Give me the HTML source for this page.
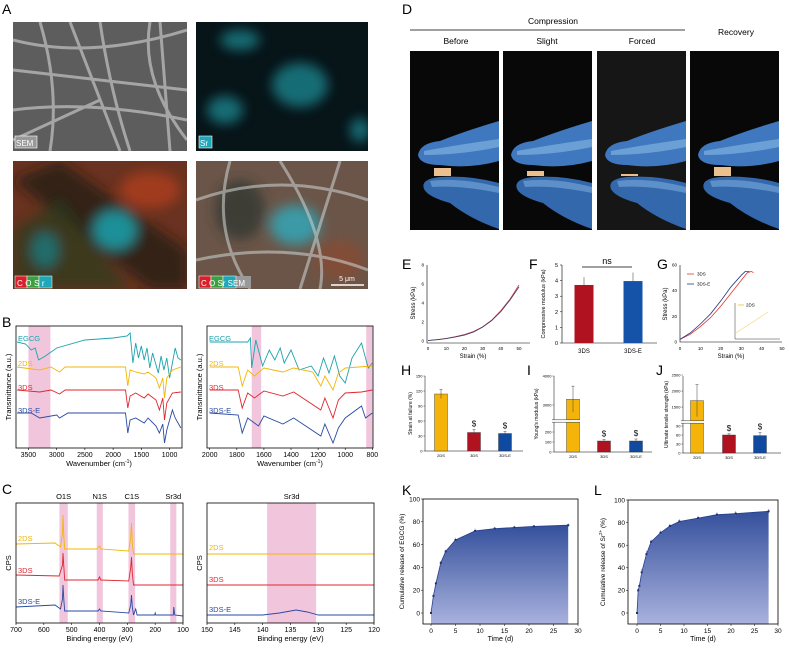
<!DOCTYPE html>
<html><head><meta charset="utf-8"><style>
html,body{margin:0;padding:0;background:#fff;}
svg{display:block;font-family:"Liberation Sans",sans-serif;}
</style></head><body>
<svg id="fig" width="789" height="648" viewBox="0 0 789 648" xmlns="http://www.w3.org/2000/svg">
<defs>
<linearGradient id="relGrad" x1="0" y1="0" x2="0" y2="1"><stop offset="0" stop-color="#34509c"/><stop offset="1" stop-color="#aab2de"/></linearGradient>
<filter id="blur3"><feGaussianBlur stdDeviation="6"/></filter>
<clipPath id="clipTL"><rect x="13" y="22" width="174" height="129"/></clipPath>
<clipPath id="clipTR"><rect x="196" y="22" width="172" height="129"/></clipPath>
<clipPath id="clipBL"><rect x="13" y="161" width="174" height="128"/></clipPath>
<clipPath id="clipBR"><rect x="196" y="161" width="172" height="128"/></clipPath>
</defs>

<!-- Panel A -->
<g>
<text x="2" y="14" font-size="14">A</text>
<g clip-path="url(#clipTL)">
<rect x="13" y="22" width="174" height="129" fill="#5d5d5d"/>
<g stroke="#b8b8b8" stroke-width="3" fill="none" opacity="0.8">
<path d="M13 40 Q90 60 187 30"/><path d="M40 22 Q60 90 50 151"/><path d="M100 22 Q110 90 130 151"/><path d="M13 110 Q90 100 187 120"/><path d="M150 22 Q140 80 187 140"/><path d="M13 70 L187 90"/><path d="M70 22 L120 151"/><path d="M13 140 L100 100"/><path d="M160 22 L170 151"/>
</g>
<rect x="15" y="136" width="22" height="12" fill="#999" stroke="#fff" stroke-width="0.6"/>
<text x="16" y="146" font-size="8" fill="#fff">SEM</text>
</g>
<g clip-path="url(#clipTR)">
<rect x="196" y="22" width="172" height="129" fill="#071418"/>
<g filter="url(#blur3)" fill="#1c8a94" opacity="0.75">
<ellipse cx="300" cy="85" rx="28" ry="22"/><ellipse cx="225" cy="110" rx="18" ry="14"/><ellipse cx="240" cy="40" rx="20" ry="10"/><ellipse cx="360" cy="130" rx="10" ry="12"/>
</g>
<rect x="199" y="136" width="13" height="12" fill="#1ea7b8" stroke="#fff" stroke-width="0.6"/>
<text x="200" y="146" font-size="8" fill="#fff">Sr</text>
</g>
<g clip-path="url(#clipBL)">
<rect x="13" y="161" width="174" height="128" fill="#6a3220"/>
<g filter="url(#blur3)">
<path d="M13 180 L60 161 L187 250 L187 289 L150 289 Z" fill="#1a1a12" opacity="0.7"/>
<path d="M13 230 L60 200 L130 289 L13 289 Z" fill="#2a3a20" opacity="0.7"/>
<ellipse cx="115" cy="230" rx="22" ry="20" fill="#1e8f98"/>
<ellipse cx="45" cy="250" rx="14" ry="18" fill="#1e7a80" opacity="0.8"/>
<ellipse cx="150" cy="190" rx="30" ry="18" fill="#b84020" opacity="0.7"/>
</g>
<rect x="15" y="276" width="12" height="12" fill="#d8202a" stroke="#fff" stroke-width="0.5"/>
<rect x="27" y="276" width="12" height="12" fill="#3aa040" stroke="#fff" stroke-width="0.5"/>
<rect x="39" y="276" width="13" height="12" fill="#1ea7b8" stroke="#fff" stroke-width="0.5"/>
<text x="17" y="286" font-size="8" fill="#fff" letter-spacing="2.5">COSr</text>
</g>
<g clip-path="url(#clipBR)">
<rect x="196" y="161" width="172" height="128" fill="#6b5548"/>
<g filter="url(#blur3)"><ellipse cx="295" cy="225" rx="25" ry="20" fill="#3a9aa6"/><ellipse cx="240" cy="210" rx="25" ry="30" fill="#2a3530" opacity="0.7"/><ellipse cx="340" cy="260" rx="25" ry="20" fill="#8a4a30" opacity="0.7"/></g>
<g stroke="#c8cccc" stroke-width="3" fill="none" opacity="0.6">
<path d="M196 200 Q280 170 368 200"/><path d="M230 161 Q210 230 250 289"/><path d="M280 161 Q330 240 320 289"/><path d="M196 260 Q290 240 368 270"/><path d="M340 161 L300 289"/>
</g>
<rect x="199" y="276" width="52" height="12" fill="#999"/>
<rect x="199" y="276" width="12" height="12" fill="#d8202a" stroke="#fff" stroke-width="0.5"/>
<rect x="211" y="276" width="12" height="12" fill="#3aa040" stroke="#fff" stroke-width="0.5"/>
<rect x="223" y="276" width="13" height="12" fill="#1ea7b8" stroke="#fff" stroke-width="0.5"/>
<text x="201" y="286" font-size="8" fill="#fff">C  O  Sr SEM</text>
<line x1="331" y1="285" x2="364" y2="285" stroke="#fff" stroke-width="1.5"/>
<text x="347" y="281" font-size="7" fill="#fff" text-anchor="middle">5 μm</text>
</g>
</g>

<!-- Panel D -->
<g>
<text x="402" y="14" font-size="14">D</text>
<text x="553" y="24" font-size="8.5" text-anchor="middle">Compression</text>
<line x1="410" y1="30" x2="685" y2="30" stroke="#000" stroke-width="0.8"/>
<text x="456" y="44" font-size="8.5" text-anchor="middle">Before</text>
<text x="547" y="44" font-size="8.5" text-anchor="middle">Slight</text>
<text x="642" y="44" font-size="8.5" text-anchor="middle">Forced</text>
<text x="736" y="35" font-size="8.5" text-anchor="middle">Recovery</text>
<g id="photos"></g>
</g>

<g id="charts"></g>
</svg>
<script>
var NS='http://www.w3.org/2000/svg';
var root=document.getElementById('charts');
function mk(tag,attrs,name,parent,text){
  var el=document.createElementNS(NS,tag);
  for(var k in attrs) el.setAttribute(k,attrs[k]);
  
  
  if(text!==undefined) el.textContent=text;
  (parent||root).appendChild(el);
  return el;
}
function lin(d0,d1,r0,r1){return function(v){return r0+(v-d0)*(r1-r0)/(d1-d0);};}

// ---------- Photos (D) ----------
var photoX=[410,503,597,690];
var sampleH=[8,5,2,9];
var ph=document.getElementById('photos');
photoX.forEach(function(x,i){
  var g=mk('g',{transform:'translate('+x+',51)'},'photo-'+(i+1),ph);
  mk('rect',{x:0,y:0,width:89,height:179,fill:i==2?'#161616':'#080808'},'photo-background',g);
  mk('path',{d:'M8 104 Q10 92 30 90 Q55 80 89 70 L89 110 Q60 118 30 114 Q10 114 8 104 Z',fill:'#3f78bf'},'glove-upper',g);
  mk('path',{d:'M14 100 Q40 95 89 88 L89 96 Q50 104 14 104 Z',fill:'#7fb0e0',opacity:0.7},'glove-upper-highlight',g);
  mk('path',{d:'M14 138 Q10 128 30 126 Q60 124 89 132 L89 178 Q60 168 40 152 Q18 146 14 138 Z',fill:'#3468ac'},'glove-lower',g);
  mk('path',{d:'M20 130 Q50 126 89 136 L89 142 Q50 134 22 136 Z',fill:'#7aaadc',opacity:0.6},'glove-lower-highlight',g);
  mk('rect',{x:24,y:125-sampleH[i],width:17,height:sampleH[i],fill:'#e9c08e'},'sample-scaffold',g);
});

// ---------- Panel B: FTIR ----------
var ftirNames=['EGCG','2DS','3DS','3DS-E'];
var ftirColors=['#1ba3ad','#f2b705','#e0262f','#2a4aa2'];
var ftirLeftEGCG=[[3700,106],[3550,104],[3450,98],[3380,100],[3320,88],[3200,92],[3000,100],[2500,108],[2000,110],[1750,112],[1700,115],[1650,85],[1600,105],[1550,90],[1500,102],[1450,88],[1400,100],[1350,80],[1300,95],[1200,75],[1150,92],[1100,78],[1050,90],[1000,70],[950,85],[900,100],[850,90],[800,88]];
var ftirLeft2DS=[[3700,81],[3300,78],[3100,81],[2950,76],[2850,81],[1780,81],[1740,62],[1700,78],[1600,76],[1450,74],[1380,76],[1240,70],[1180,60],[1120,70],[1090,50],[1050,70],[950,78],[800,81]];
var ftirLeft3DS=[[3700,58],[3300,56],[3100,58],[2950,54],[2850,58],[1780,58],[1740,40],[1700,52],[1600,55],[1450,50],[1380,54],[1240,48],[1180,38],[1120,50],[1090,28],[1050,45],[950,55],[800,56]];
var ftirLeft3DSE=[[3700,35],[3450,35],[3300,30],[3000,33],[2950,30],[2800,35],[1780,35],[1740,15],[1700,28],[1600,30],[1450,25],[1380,30],[1240,22],[1180,15],[1120,24],[1090,5],[1050,18],[950,38],[900,30],[800,20]];
var ftirRightEGCG=[[2000,106],[1720,106],[1700,110],[1690,80],[1660,108],[1610,82],[1560,98],[1520,88],[1480,100],[1450,85],[1400,98],[1340,78],[1250,82],[1200,72],[1160,90],[1120,75],[1080,92],[1040,72],[1000,65],[950,90],[880,105],[850,90],[830,80],[800,85]];
var ftirRight2DS=[[2000,81],[1790,81],[1760,62],[1720,78],[1670,72],[1600,80],[1460,76],[1380,80],[1240,76],[1180,62],[1150,72],[1090,58],[1050,75],[1000,80],[800,82]];
var ftirRight3DS=[[2000,58],[1790,58],[1760,40],[1720,55],[1670,50],[1600,57],[1460,52],[1380,56],[1180,38],[1150,50],[1090,30],[1050,48],[1000,55],[880,56],[800,58]];
var ftirRight3DSE=[[2000,35],[1790,33],[1760,15],[1720,30],[1640,22],[1600,32],[1460,24],[1380,30],[1180,12],[1150,24],[1090,5],[1050,20],[1000,30],[880,42],[850,30],[800,35]];
var ftirLeftTicks=[3500,3000,2500,2000,1500,1000];
var ftirRightTicks=[2000,1800,1600,1400,1200,1000,800];
var ftirLeftBands=[[3500,3110]];
var ftirRightBands=[[1690,1620],[845,800]];

// ---------- Panel C: XPS ----------
var xpsNames=['2DS','3DS','3DS-E'];
var xpsColors=['#f2b705','#e0262f','#2a4aa2'];
var xpsLeft2DS=[[700,79],[560,80],[540,76],[533,90],[531,108],[528,85],[525,74],[410,74],[400,77],[395,74],[295,72],[288,85],[285,100],[282,80],[278,69],[100,69]];
var xpsLeft3DS=[[700,48],[545,47],[533,58],[531,70],[528,55],[525,43],[405,43],[400,46],[395,43],[295,42],[288,55],[285,66],[282,50],[278,38],[100,38]];
var xpsLeft3DSE=[[700,16],[560,18],[540,14],[533,24],[531,38],[528,22],[525,12],[405,12],[400,14],[395,12],[295,10],[288,18],[285,28],[282,16],[278,8],[270,14],[265,8],[202,8],[200,10],[198,8],[135,8],[133,16],[130,8],[100,7]];
var xpsRight2DS=[[150,69],[120,69]];
var xpsRight3DS=[[150,38],[120,38]];
var xpsRight3DSE=[[150,8],[140,8],[137,10],[134,13],[132,11],[130,8],[120,8]];
var xpsLeftTicks=[700,600,500,400,300,200,100];
var xpsRightTicks=[150,145,140,135,130,125,120];
var xpsLeftBands=[[544,514],[410,388],[296,272],[146,124]];
var xpsBandLabels=['O1S','N1S','C1S','Sr3d'];
var xpsRightBands=[[139.2,130.4]];

function frame(x0,y0,x1,y1,name){mk('rect',{x:x0,y:y0,width:x1-x0,height:y1-y0,fill:'none',stroke:'#000','stroke-width':0.8},name);}
function spectrum(opt){
  var sx=lin(opt.d0,opt.d1,opt.x0,opt.x1);
  var sy=function(v){return opt.y1-v;};
  opt.bands.forEach(function(b){
    mk('rect',{x:sx(b[0]),y:opt.y0,width:sx(b[1])-sx(b[0]),height:opt.y1-opt.y0,fill:'#f1c6dd'},opt.name+'-band');
  });
  opt.series.forEach(function(s,i){
    var d=s.map(function(p,j){return (j?'L':'M')+sx(p[0]).toFixed(1)+' '+sy(p[1]).toFixed(1);}).join(' ');
    mk('path',{d:d,fill:'none',stroke:opt.colors[i],'stroke-width':0.9},opt.name+'-line-'+opt.names[i].toLowerCase());
    mk('text',{x:opt.x0+2,y:opt.labelY[i],'font-size':7.5,fill:opt.colors[i]},opt.name+'-label-'+opt.names[i].toLowerCase(),root,opt.names[i]);
  });
  frame(opt.x0,opt.y0,opt.x1,opt.y1,opt.name+'-frame');
  opt.ticks.forEach(function(t){
    var x=sx(t);
    mk('line',{x1:x,y1:opt.y1,x2:x,y2:opt.y1+2,stroke:'#000','stroke-width':0.6},opt.name+'-tick');
    mk('text',{x:x,y:opt.y1+9,'font-size':7,'text-anchor':'middle'},opt.name+'-tick-label',root,String(t));
  });
  var xt=mk('text',{x:(opt.x0+opt.x1)/2,y:opt.y1+18,'font-size':7.5,'text-anchor':'middle'},opt.name+'-x-title',root,'');
  xt.innerHTML=opt.xtitle;
  mk('text',{x:0,y:0,'font-size':7.5,'text-anchor':'middle',transform:'translate('+(opt.x0-5)+','+((opt.y0+opt.y1)/2)+') rotate(-90)'},opt.name+'-y-title',root,opt.ytitle);
  return sx;
}
mk('text',{x:2,y:327,'font-size':14},'panel-label-b',root,'B');
mk('text',{x:2,y:494,'font-size':14},'panel-label-c',root,'C');
spectrum({name:'ftir-left',d0:3720,d1:780,x0:16,x1:182,y0:326,y1:448,bands:ftirLeftBands,series:[ftirLeftEGCG,ftirLeft2DS,ftirLeft3DS,ftirLeft3DSE],colors:ftirColors,names:ftirNames,labelY:[341,366,390,413],ticks:ftirLeftTicks,xtitle:'Wavenumber (cm<tspan font-size="5" dy="-3">-1</tspan><tspan dy="3">)</tspan>',ytitle:'Transmittance (a.u.)'});
spectrum({name:'ftir-right',d0:2020,d1:795,x0:207,x1:373,y0:326,y1:448,bands:ftirRightBands,series:[ftirRightEGCG,ftirRight2DS,ftirRight3DS,ftirRight3DSE],colors:ftirColors,names:ftirNames,labelY:[341,366,390,413],ticks:ftirRightTicks,xtitle:'Wavenumber (cm<tspan font-size="5" dy="-3">-1</tspan><tspan dy="3">)</tspan>',ytitle:'Transmittance (a.u.)'});
var sxl=spectrum({name:'xps-left',d0:700,d1:100,x0:16,x1:183,y0:503,y1:623,bands:xpsLeftBands,series:[xpsLeft2DS,xpsLeft3DS,xpsLeft3DSE],colors:xpsColors,names:xpsNames,labelY:[541,573,604],ticks:xpsLeftTicks,xtitle:'Binding energy (eV)',ytitle:'CPS'});
xpsLeftBands.forEach(function(b,i){mk('text',{x:sxl((b[0]+b[1])/2),y:499,'font-size':7.5,'text-anchor':'middle'},'xps-peak-label',root,xpsBandLabels[i]);});
var sxr=spectrum({name:'xps-right',d0:150,d1:120,x0:207,x1:374,y0:503,y1:623,bands:xpsRightBands,series:[xpsRight2DS,xpsRight3DS,xpsRight3DSE],colors:xpsColors,names:xpsNames,labelY:[550,582,612],ticks:xpsRightTicks,xtitle:'Binding energy (eV)',ytitle:'CPS'});
mk('text',{x:sxr(134.8),y:499,'font-size':7.5,'text-anchor':'middle'},'xps-peak-label',root,'Sr3d');

// ---------- Panel E ----------
var eStrain=[0,5,10,15,20,25,30,35,40,45,50];
var eStress3DS=[0.05,0.15,0.27,0.45,0.68,1.0,1.5,2.2,3.2,4.4,5.9];
var eStress3DSE=[0.05,0.14,0.25,0.42,0.62,0.95,1.45,2.15,3.1,4.3,5.7];
var eXTicks=[0,10,20,30,40,50];
var eYTicks=[0,2,4,6,8];
(function(){
  var sx=lin(0,50,428,519), sy=lin(0,8,341,265);
  mk('text',{x:402,y:269,'font-size':14},'panel-label-e',root,'E');
  mk('path',{d:'M427 265 L427 343 L530 343',fill:'none',stroke:'#000','stroke-width':0.6},'e-axes');
  eXTicks.forEach(function(t){mk('text',{x:sx(t),y:350,'font-size':4.5,'text-anchor':'middle'},'e-x-tick',root,String(t));});
  eYTicks.forEach(function(t){mk('text',{x:424,y:sy(t)+1.5,'font-size':4.5,'text-anchor':'end'},'e-y-tick',root,String(t));});
  [[eStress3DS,'#e0404a'],[eStress3DSE,'#333a66']].forEach(function(s,k){
    var d=eStrain.map(function(v,i){return (i?'L':'M')+sx(v).toFixed(1)+' '+sy(s[0][i]).toFixed(1);}).join(' ');
    mk('path',{d:d,fill:'none',stroke:s[1],'stroke-width':0.8},k?'e-line-3ds-e':'e-line-3ds');
  });
  mk('text',{x:473,y:358,'font-size':6,'text-anchor':'middle'},'e-x-title',root,'Strain (%)');
  mk('text',{x:0,y:0,'font-size':6,'text-anchor':'middle',transform:'translate(415,303) rotate(-90)'},'e-y-title',root,'Stress (kPa)');
})();

// ---------- Panel F ----------
var fGroups=['3DS','3DS-E'];
var fValues=[3.72,3.97];
var fErrors=[0.5,0.55];
var fColors=['#b0121f','#1553a8'];
var fYTicks=[0,1,2,3,4,5];
(function(){
  var sy=lin(0,5,343,265);
  var cx=[584,633];
  mk('text',{x:529,y:269,'font-size':14},'panel-label-f',root,'F');
  mk('path',{d:'M562 265 L562 343 L657 343',fill:'none',stroke:'#000','stroke-width':0.6},'f-axes');
  fYTicks.forEach(function(t){mk('line',{x1:560,y1:sy(t),x2:562,y2:sy(t),stroke:'#000','stroke-width':0.5},'f-y-tickmark');mk('text',{x:558,y:sy(t)+2,'font-size':5.5,'text-anchor':'end'},'f-y-tick',root,String(t));});
  fValues.forEach(function(v,i){
    mk('line',{x1:cx[i],y1:sy(v+fErrors[i]),x2:cx[i],y2:sy(v-fErrors[i]),stroke:'#888','stroke-width':0.6},'f-error-bar');
    mk('rect',{x:cx[i]-9.5,y:sy(v),width:19,height:343-sy(v),fill:fColors[i]},'f-bar-'+fGroups[i].toLowerCase());
    mk('line',{x1:cx[i],y1:sy(v+fErrors[i]),x2:cx[i],y2:sy(v),stroke:'#888','stroke-width':0.6},'f-error-bar-top');
    mk('text',{x:cx[i],y:353,'font-size':6,'text-anchor':'middle'},'f-x-label',root,fGroups[i]);
  });
  mk('line',{x1:582,y1:267,x2:632,y2:267,stroke:'#000','stroke-width':0.7},'f-ns-bracket');
  mk('text',{x:607,y:264,'font-size':9,'text-anchor':'middle'},'f-ns-label',root,'ns');
  mk('text',{x:0,y:0,'font-size':5.5,'text-anchor':'middle',transform:'translate(545,304) rotate(-90)'},'f-y-title',root,'Compressive modulus (kPa)');
})();

// ---------- Panel G ----------
var gStrain3DS=[0,5,10,15,20,25,30,33,35,36];
var gStress3DS=[2,6,12,19,28,38,48,54,55,54];
var gStrain3DSE=[0,5,10,15,20,25,30,32,34];
var gStress3DSE=[2,7,14,22,32,43,52,55,55];
var gInsetStrain=[0,40,80,120];
var gInsetStress=[300,700,1100,1500];
var gXTicks=[0,10,20,30,40,50];
var gYTicks=[0,20,40,60];
(function(){
  var sx=lin(0,50,680,782), sy=lin(0,60,342,265);
  mk('text',{x:657,y:269,'font-size':14},'panel-label-g',root,'G');
  mk('path',{d:'M680 265 L680 342 L782 342',fill:'none',stroke:'#000','stroke-width':0.6},'g-axes');
  gXTicks.forEach(function(t){mk('text',{x:sx(t),y:350,'font-size':4.5,'text-anchor':'middle'},'g-x-tick',root,String(t));});
  gYTicks.forEach(function(t){mk('text',{x:677,y:sy(t)+1.5,'font-size':4.5,'text-anchor':'end'},'g-y-tick',root,String(t));});
  function ln(xs,ys,c,n){var d=xs.map(function(v,i){return (i?'L':'M')+sx(v).toFixed(1)+' '+sy(ys[i]).toFixed(1);}).join(' ');mk('path',{d:d,fill:'none',stroke:c,'stroke-width':0.8},n);}
  ln(gStrain3DS,gStress3DS,'#e8342e','g-line-3ds');
  ln(gStrain3DSE,gStress3DSE,'#233a8c','g-line-3ds-e');
  mk('line',{x1:687,y1:274,x2:694,y2:274,stroke:'#e8342e','stroke-width':0.8},'g-legend-swatch-3ds');
  mk('text',{x:697,y:275.5,'font-size':4.5},'g-legend-3ds',root,'3DS');
  mk('line',{x1:687,y1:284,x2:694,y2:284,stroke:'#233a8c','stroke-width':0.8},'g-legend-swatch-3ds-e');
  mk('text',{x:697,y:285.5,'font-size':4.5},'g-legend-3ds-e',root,'3DS-E');
  var ix=lin(0,160,735,779), iy=lin(0,2000,339,303);
  mk('path',{d:'M735 303 L735 339 L780 339',fill:'none',stroke:'#000','stroke-width':0.4},'g-inset-axes');
  var d=gInsetStrain.map(function(v,i){return (i?'L':'M')+ix(v).toFixed(1)+' '+iy(gInsetStress[i]).toFixed(1);}).join(' ');
  mk('path',{d:d,fill:'none',stroke:'#f6d27a','stroke-width':0.6},'g-inset-line-2ds');
  mk('line',{x1:738,y1:305,x2:744,y2:305,stroke:'#f2b705','stroke-width':0.7},'g-legend-swatch-2ds');
  mk('text',{x:746,y:306.5,'font-size':4.5},'g-legend-2ds',root,'2DS');
  mk('text',{x:731,y:358,'font-size':6,'text-anchor':'middle'},'g-x-title',root,'Strain (%)');
  mk('text',{x:0,y:0,'font-size':6,'text-anchor':'middle',transform:'translate(667,304) rotate(-90)'},'g-y-title',root,'Stress (kPa)');
})();

// ---------- Panels H, I, J ----------
var tensileGroups=['2DS','3DS','3DS-E'];
var tensileColors=['#f5b40a','#b0121f','#0f4aa0'];
var hValues=[114,37,35];
var hErrors=[9,6,4];
var hTicks=[0,30,60,90,120,150];
var iValues=[3200,110,110];
var iErrors=[450,15,20];
var iTicksLow=[0,100,200];
var iTicksHigh=[3000,4000];
var jValues=[1700,60,58];
var jErrors=[500,4,10];
var jTicksLow=[0,30,60,90];
var jTicksHigh=[1500,2000,2500];
function tensile(o){
  mk('text',{x:o.lx,y:375,'font-size':14},'panel-label-'+o.id,root,o.id.toUpperCase());
  mk('path',{d:'M'+o.ax+' 376 L'+o.ax+' '+o.base+' L'+(o.ax+98)+' '+o.base,fill:'none',stroke:'#000','stroke-width':0.5},o.id+'-axes');
  o.lowTicks.forEach(function(t){var y=o.ly(t);mk('line',{x1:o.ax-1.5,y1:y,x2:o.ax,y2:y,stroke:'#000','stroke-width':0.4},o.id+'-tickmark');mk('text',{x:o.ax-2.5,y:y+1.3,'font-size':4,'text-anchor':'end'},o.id+'-y-tick',root,String(t));});
  o.highTicks.forEach(function(t){var y=o.hy(t);mk('line',{x1:o.ax-1.5,y1:y,x2:o.ax,y2:y,stroke:'#000','stroke-width':0.4},o.id+'-tickmark');mk('text',{x:o.ax-2.5,y:y+1.3,'font-size':4,'text-anchor':'end'},o.id+'-y-tick',root,String(t));});
  o.values.forEach(function(v,i){
    var cx=o.cx[i], y=v>o.brk?o.hy(v):o.ly(v);
    var yt=(v+o.errors[i])>o.brk?o.hy(v+o.errors[i]):o.ly(v+o.errors[i]);
    var yb=(v-o.errors[i])>o.brk?o.hy(v-o.errors[i]):o.ly(v-o.errors[i]);
    mk('rect',{x:cx-6.5,y:y,width:13,height:o.base-y,fill:o.colors[i],stroke:'#333','stroke-width':0.4},o.id+'-bar-'+tensileGroups[i].toLowerCase());
    mk('line',{x1:cx,y1:yt,x2:cx,y2:yb,stroke:'#444','stroke-width':0.5},o.id+'-error-bar');
    mk('line',{x1:cx-1.5,y1:yt,x2:cx+1.5,y2:yt,stroke:'#444','stroke-width':0.5},o.id+'-error-cap');
    mk('text',{x:cx,y:o.base+6,'font-size':4,'text-anchor':'middle'},o.id+'-x-label',root,tensileGroups[i]);
    if(i>0) mk('text',{x:cx,y:yt-3,'font-size':8,'text-anchor':'middle'},o.id+'-significance',root,'$');
  });
  if(o.breakY){
    mk('rect',{x:o.ax-2,y:o.breakY-1.2,width:o.cx[0]+8-o.ax+2,height:2.4,fill:'#fff'},o.id+'-axis-break');
    mk('line',{x1:o.ax-2,y1:o.breakY-1.2,x2:o.cx[0]+7,y2:o.breakY-1.2,stroke:'#333','stroke-width':0.5},o.id+'-break-line');
    mk('line',{x1:o.ax-2,y1:o.breakY+1.2,x2:o.cx[0]+7,y2:o.breakY+1.2,stroke:'#333','stroke-width':0.5},o.id+'-break-line');
  }
  mk('text',{x:0,y:0,'font-size':5,'text-anchor':'middle',transform:'translate('+o.tx+','+((376+o.base)/2)+') rotate(-90)'},o.id+'-y-title',root,o.title);
}
tensile({id:'h',lx:401,ax:425,base:451,ly:lin(0,150,451,376),hy:lin(0,150,451,376),brk:1e9,lowTicks:hTicks,highTicks:[],values:hValues,errors:hErrors,colors:tensileColors,cx:[441,474,505],tx:412,title:'Strain at failure (%)'});
tensile({id:'i',lx:527,ax:554,base:452,ly:lin(0,250,452,427),hy:lin(3000,4000,405,376),brk:250,lowTicks:iTicksLow,highTicks:iTicksHigh,values:iValues,errors:iErrors,colors:tensileColors,cx:[573,604,636],tx:538,title:"Young's modulus (kPa)",breakY:421});
tensile({id:'j',lx:656,ax:683,base:453,ly:lin(0,90,453,426),hy:lin(1500,2500,407,375),brk:100,lowTicks:jTicksLow,highTicks:jTicksHigh,values:jValues,errors:jErrors,colors:tensileColors,cx:[697,729,760],tx:668,title:'Ultimate tensile strength (kPa)',breakY:422});

// ---------- Panels K, L ----------
var kTime=[0,0.5,1,2,3,5,9,13,17,21,28];
var kRelease=[0,15,26,44,54,64,72,74,75,76,77];
var kError=[0.5,1,1,1.5,1.5,2,2,1.5,1.5,1,1.5];
var lTime=[0,0.25,0.5,1,2,3,5,7,9,13,17,21,28];
var lRelease=[0,20,24,36,52,63,71,77,81,84,87,88,90];
var lError=[0.5,2,2,3,3,2,2,2,2,2,2,2,2];
var relXTicks=[0,5,10,15,20,25,30];
var relYTicks=[0,20,40,60,80,100];
function release(o){
  var sx=lin(0,30,o.x0,o.x1), sy=lin(0,100,o.y0b,o.y0);
  mk('text',{x:o.lx,y:495,'font-size':14},'panel-label-'+o.id,root,o.id.toUpperCase());
  var d='M'+sx(o.t[0])+' '+sy(-10);
  o.t.forEach(function(t,i){d+=' L'+sx(t).toFixed(1)+' '+sy(o.v[i]).toFixed(1);});
  d+=' L'+sx(o.t[o.t.length-1]).toFixed(1)+' '+sy(-10)+' Z';
  mk('path',{d:d,fill:'url(#relGrad)'},o.id+'-area');
  var ld=o.t.map(function(t,i){return (i?'L':'M')+sx(t).toFixed(1)+' '+sy(o.v[i]).toFixed(1);}).join(' ');
  mk('path',{d:ld,fill:'none',stroke:'#2a3f8a','stroke-width':0.8},o.id+'-line');
  o.t.forEach(function(t,i){
    mk('line',{x1:sx(t),y1:sy(o.v[i]+o.e[i]),x2:sx(t),y2:sy(o.v[i]-o.e[i]),stroke:'#6a7ac0','stroke-width':0.6},o.id+'-error-bar');
    mk('rect',{x:sx(t)-1,y:sy(o.v[i])-1,width:2,height:2,fill:'#1e2f78'},o.id+'-point');
  });
  frame(o.x0l,o.y0,o.x1,o.y1,o.id+'-frame');
  relXTicks.forEach(function(t){mk('line',{x1:sx(t),y1:o.y1,x2:sx(t),y2:o.y1+2,stroke:'#000','stroke-width':0.5},o.id+'-x-tickmark');mk('text',{x:sx(t),y:o.y1+9,'font-size':6.5,'text-anchor':'middle'},o.id+'-x-tick',root,String(t));});
  relYTicks.forEach(function(t){mk('line',{x1:o.x0l-2,y1:sy(t),x2:o.x0l,y2:sy(t),stroke:'#000','stroke-width':0.5},o.id+'-y-tickmark');mk('text',{x:o.x0l-3,y:sy(t)+2.3,'font-size':6.5,'text-anchor':'end'},o.id+'-y-tick',root,String(t));});
  mk('text',{x:(o.x0l+o.x1)/2,y:o.y1+17,'font-size':7,'text-anchor':'middle'},o.id+'-x-title',root,'Time (d)');
  var yt=mk('text',{x:0,y:0,'font-size':6.5,'text-anchor':'middle',transform:'translate('+o.tx+','+((o.y0+o.y1)/2)+') rotate(-90)'},o.id+'-y-title',root,'');
  yt.innerHTML=o.title;
}
release({id:'k',lx:402,x0:431,x1:578,x0l:423,y0:499,y0b:613,y1:624,t:kTime,v:kRelease,e:kError,tx:404,title:'Cumulative release of EGCG (%)'});
release({id:'l',lx:594,x0:637,x1:778,x0l:628,y0:500,y0b:613,y1:624,t:lTime,v:lRelease,e:lError,tx:605,title:'Cumulative release of Sr<tspan font-size="4.5" dy="-3">2+</tspan><tspan dy="3"> (%)</tspan>'});
</script>
</body></html>
